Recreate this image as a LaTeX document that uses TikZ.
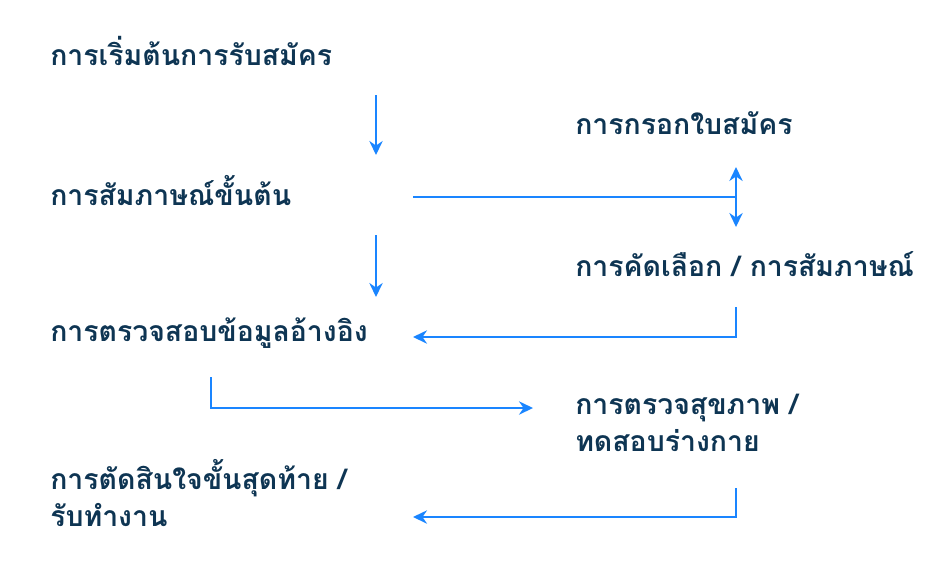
\documentclass[tikz,border=0pt]{standalone}
\usepackage{fontspec}
\newfontfamily\thaifont[Script=Thai]{Loma}
\usetikzlibrary{arrows.meta}
\definecolor{txt}{HTML}{0E3553}
\definecolor{arr}{HTML}{1A85FF}
\tikzset{
  lbl/.style={anchor=west,inner sep=0pt,text=txt,font=\thaifont\bfseries\fontsize{21.3}{27.5}\selectfont,align=left},
  conn/.style={draw=arr,line width=1.5pt,-{Stealth[length=10.5pt,width=10pt]}},
  conn2/.style={draw=arr,line width=1.5pt,{Stealth[length=10.5pt,width=10pt]}-{Stealth[length=10.5pt,width=10pt]}},
  plain/.style={draw=arr,line width=1.5pt}
}
\begin{document}
\begin{tikzpicture}[x=0.75pt,y=-0.75pt]
\useasboundingbox (0,0) rectangle (948,562);
\node[lbl] (n1) at (50,51) {การเริ่มต้นการรับสมัคร};
\node[lbl] (n2) at (50,191) {การสัมภาษณ์ขั้นต้น};
\node[lbl] (n3) at (50,333) {การตรวจสอบข้อมูลอ้างอิง};
\node[lbl] (n4) at (50,493) {การตัดสินใจขั้นสุดท้าย /\\รับทำงาน};
\node[lbl] (n5) at (575,123) {การกรอกใบสมัคร};
\node[lbl] (n6) at (575,264) {การคัดเลือก / การสัมภาษณ์};
\node[lbl] (n7) at (575,423) {การตรวจสุขภาพ /\\ทดสอบร่างกาย};
% coordinates
\coordinate (a1s) at (376,95);  \coordinate (a1e) at (376,155);
\coordinate (a2s) at (376,235); \coordinate (a2e) at (376,297);
\coordinate (h1s) at (413,197); \coordinate (h1e) at (736,197);
\coordinate (d1s) at (736,167); \coordinate (d1e) at (736,227);
\coordinate (b1s) at (736,307); \coordinate (b1c) at (736,337); \coordinate (b1e) at (413,337);
\coordinate (c1s) at (211,377); \coordinate (c1c) at (211,408); \coordinate (c1e) at (533,408);
\coordinate (e1s) at (736,488); \coordinate (e1c) at (736,517); \coordinate (e1e) at (413,517);
\draw[conn] (a1s) -- (a1e);
\draw[conn] (a2s) -- (a2e);
\draw[plain] (h1s) -- (h1e);
\draw[conn2] (d1s) -- (d1e);
\draw[conn] (b1s) -- (b1c) -- (b1e);
\draw[conn] (c1s) -- (c1c) -- (c1e);
\draw[conn] (e1s) -- (e1c) -- (e1e);
\end{tikzpicture}
\end{document}
